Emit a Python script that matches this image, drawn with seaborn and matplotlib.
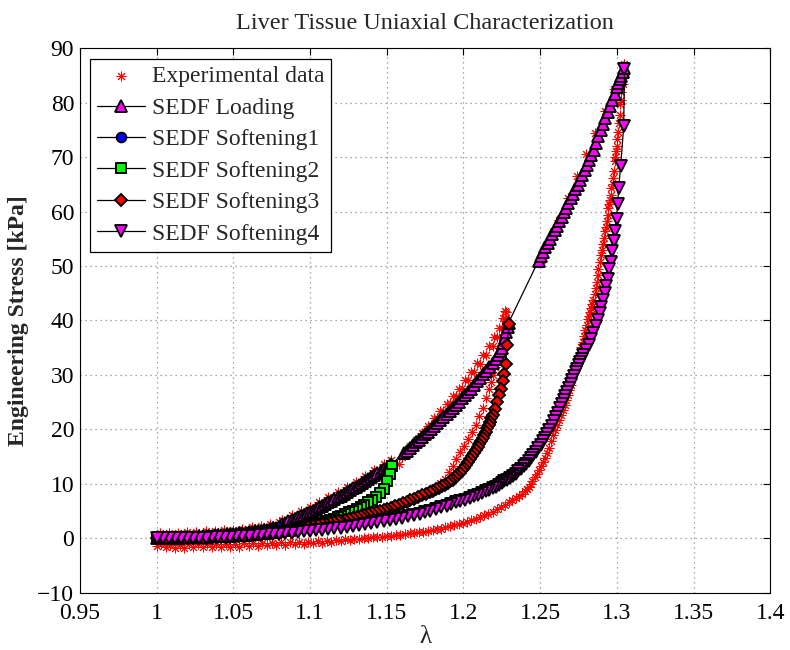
import numpy as np
import pandas as pd
import matplotlib
matplotlib.use("Agg")
import matplotlib.pyplot as plt
import seaborn as sns

# ---- values (stretch lambda, stress kPa) ----
# SEDF loading (primary path)
load_lam = [1.000, 1.002, 1.004, 1.006, 1.008, 1.010, 1.012, 1.014, 1.016, 1.018, 1.020,
            1.022, 1.024, 1.026, 1.028, 1.030, 1.032, 1.034, 1.036, 1.038, 1.040,
            1.042, 1.044, 1.046, 1.048, 1.050, 1.052, 1.054, 1.056, 1.058, 1.060,
            1.062, 1.064, 1.066, 1.068, 1.070, 1.072, 1.074, 1.076, 1.078, 1.080,
            1.082, 1.084, 1.086, 1.088, 1.090, 1.092, 1.094, 1.096, 1.098, 1.100,
            1.102, 1.104, 1.106, 1.108, 1.110, 1.112, 1.114, 1.116, 1.118, 1.120,
            1.122, 1.124, 1.126, 1.128, 1.130, 1.132, 1.134, 1.136, 1.138, 1.140,
            1.142, 1.144, 1.146, 1.148, 1.150, 1.1515, 1.153,
            1.161, 1.163, 1.165, 1.167, 1.169, 1.171, 1.173, 1.175, 1.177, 1.179,
            1.181, 1.183, 1.185, 1.187, 1.189, 1.191, 1.193, 1.195, 1.197, 1.199,
            1.201, 1.203, 1.205, 1.207, 1.209, 1.211, 1.213, 1.215, 1.217, 1.219,
            1.221, 1.2225, 1.224, 1.225, 1.226, 1.227, 1.228, 1.229, 1.2295,
            1.249, 1.2505, 1.252, 1.2535, 1.255, 1.2565, 1.258, 1.2595, 1.261, 1.2625,
            1.264, 1.2655, 1.267, 1.2685, 1.270, 1.2715, 1.273, 1.2745, 1.276, 1.2775,
            1.279, 1.2805, 1.282, 1.2835, 1.285, 1.2865, 1.288, 1.2895, 1.291, 1.2925,
            1.294, 1.2955, 1.297, 1.2985, 1.300, 1.301, 1.302, 1.303, 1.304, 1.305]
load_kpa = [0.00, 0.02, 0.04, 0.06, 0.08, 0.10, 0.12, 0.14, 0.17, 0.19, 0.22,
            0.25, 0.28, 0.31, 0.34, 0.38, 0.42, 0.46, 0.50, 0.54, 0.58,
            0.62, 0.67, 0.72, 0.77, 0.82, 0.88, 0.94, 1.00, 1.06, 1.13,
            1.20, 1.27, 1.35, 1.43, 1.52, 1.61, 1.71, 1.82, 1.95, 2.10,
            2.60, 2.85, 3.10, 3.35, 3.60, 3.85, 4.10, 4.35, 4.60, 4.85,
            5.10, 5.40, 5.70, 6.00, 6.30, 6.60, 6.90, 7.20, 7.50, 7.80,
            8.10, 8.45, 8.80, 9.15, 9.50, 9.85, 10.20, 10.55, 10.90, 11.25,
            11.60, 11.95, 12.30, 12.65, 13.00, 13.30, 13.60,
            15.6, 16.1, 16.6, 17.1, 17.6, 18.1, 18.6, 19.1, 19.6, 20.15,
            20.7, 21.25, 21.8, 22.35, 22.9, 23.45, 24.0, 24.55, 25.1, 25.7,
            26.3, 26.9, 27.5, 28.15, 28.8, 29.45, 30.1, 30.8, 31.5, 32.25,
            33.0, 33.65, 34.3, 35.0, 35.8, 36.8, 37.8, 38.8, 39.6,
            51.0, 51.8, 52.6, 53.4, 54.2, 55.0, 55.8, 56.6, 57.4, 58.2,
            59.0, 59.85, 60.7, 61.55, 62.4, 63.25, 64.1, 64.95, 65.8, 66.7,
            67.6, 68.5, 69.4, 70.3, 71.3, 72.5, 73.8, 74.9, 76.0, 77.15,
            78.3, 79.4, 80.5, 81.65, 82.8, 83.55, 84.3, 84.95, 85.6, 86.4]

# SEDF softening 1
soft1_lam = [1.080, 1.077, 1.074, 1.071, 1.068, 1.065, 1.062, 1.059, 1.056, 1.053,
             1.050, 1.047, 1.044, 1.041, 1.038, 1.035, 1.032, 1.029, 1.026, 1.023,
             1.020, 1.017, 1.014, 1.011, 1.008, 1.005, 1.002, 1.000]
soft1_kpa = [2.10, 1.70, 1.50, 1.33, 1.18, 1.05, 0.94, 0.84, 0.75, 0.67,
             0.60, 0.53, 0.47, 0.41, 0.36, 0.31, 0.27, 0.23, 0.19, 0.16,
             0.13, 0.10, 0.08, 0.06, 0.04, 0.02, 0.01, 0.00]

# SEDF softening 2
soft2_lam = [1.1535, 1.1525, 1.1505, 1.148, 1.1455, 1.143, 1.1405, 1.138, 1.1355, 1.133,
             1.1305, 1.128, 1.1255, 1.123, 1.1205, 1.118, 1.1155, 1.113, 1.1105, 1.108,
             1.1055, 1.103, 1.1005, 1.098, 1.0955, 1.093, 1.0905, 1.088, 1.0855, 1.083,
             1.0805, 1.078, 1.0755, 1.073, 1.0705, 1.068, 1.0655, 1.063, 1.0605, 1.058,
             1.0555, 1.053, 1.0505, 1.048, 1.0455, 1.043, 1.0405, 1.038, 1.0355, 1.033,
             1.0305, 1.028, 1.0255, 1.023, 1.0205, 1.018, 1.0155, 1.013, 1.0105, 1.008,
             1.0055, 1.003, 1.0005]
soft2_kpa = [13.3, 11.8, 10.5, 9.0, 8.3, 7.65, 7.1, 6.6, 6.15, 5.75,
             5.4, 5.05, 4.75, 4.45, 4.15, 3.85, 3.6, 3.35, 3.1, 2.9,
             2.7, 2.5, 2.3, 2.15, 2.0, 1.85, 1.7, 1.57, 1.45, 1.33,
             1.22, 1.12, 1.02, 0.93, 0.85, 0.77, 0.7, 0.63, 0.57, 0.51,
             0.46, 0.41, 0.36, 0.32, 0.28, 0.25, 0.22, 0.19, 0.16, 0.14,
             0.12, 0.1, 0.08, 0.06, 0.05, 0.04, 0.03, 0.02, 0.01, 0.01,
             0.0, 0.0, 0.0]

# SEDF softening 3
soft3_lam = [1.2295, 1.2285, 1.2275, 1.2265, 1.2255, 1.2243, 1.2232, 1.222, 1.2205, 1.219,
             1.2182, 1.2173, 1.2164, 1.2155, 1.2145, 1.2135, 1.2125, 1.2115, 1.2104, 1.2093,
             1.2082, 1.207, 1.2058, 1.2045, 1.2033, 1.202, 1.2005, 1.199, 1.1975, 1.196,
             1.1945, 1.193, 1.1915, 1.190, 1.188, 1.186, 1.184, 1.182, 1.180, 1.178,
             1.1755, 1.173, 1.1705, 1.168, 1.1655, 1.163, 1.1605, 1.158, 1.1555, 1.153,
             1.1505, 1.148, 1.1455, 1.143, 1.1405, 1.138, 1.1355, 1.133, 1.1305, 1.128,
             1.1255, 1.123, 1.1205, 1.118, 1.1155, 1.113, 1.1105, 1.108, 1.105, 1.102,
             1.099, 1.096, 1.093, 1.090, 1.087, 1.084, 1.081, 1.078, 1.075, 1.072,
             1.069, 1.066, 1.063, 1.060, 1.057, 1.054, 1.051, 1.048, 1.045, 1.042,
             1.039, 1.036, 1.033, 1.030, 1.027, 1.024, 1.021, 1.018, 1.015, 1.012,
             1.009, 1.006, 1.003, 1.000]
soft3_kpa = [39.4, 35.5, 32.0, 30.2, 28.9, 27.4, 26.3, 25.0, 23.8, 22.6,
             22.0, 21.4, 20.8, 20.2, 19.6, 19.0, 18.4, 17.8, 17.25, 16.7,
             16.15, 15.6, 15.05, 14.5, 14.0, 13.5, 13.0, 12.5, 12.05, 11.6,
             11.2, 10.8, 10.45, 10.1, 9.85, 9.6, 9.3, 9.0, 8.75, 8.5,
             8.2, 7.9, 7.6, 7.3, 7.0, 6.7, 6.42, 6.15, 5.9, 5.65,
             5.42, 5.2, 5.0, 4.8, 4.6, 4.4, 4.22, 4.05, 3.87, 3.7,
             3.55, 3.4, 3.27, 3.15, 3.0, 2.85, 2.7, 2.55, 2.38, 2.2,
             2.05, 1.9, 1.75, 1.6, 1.47, 1.35, 1.22, 1.1, 1.0, 0.9,
             0.81, 0.72, 0.64, 0.56, 0.49, 0.43, 0.37, 0.32, 0.27, 0.22,
             0.18, 0.15, 0.12, 0.1, 0.08, 0.06, 0.04, 0.03, 0.02, 0.01,
             0.0, 0.0, 0.0, 0.0]

# SEDF softening 4
soft4_lam = [1.3050, 1.3045, 1.3025, 1.3012, 1.3005, 1.2998, 1.2987, 1.2979, 1.2968, 1.2959,
             1.2948, 1.2940, 1.2931, 1.2921, 1.2911, 1.2900, 1.2888, 1.2876, 1.2862, 1.2848,
             1.2833, 1.2817, 1.2800, 1.2782, 1.2772, 1.2763, 1.2753, 1.2743, 1.2733, 1.2722,
             1.2711, 1.2700, 1.2689, 1.2677, 1.2665, 1.2653, 1.2641, 1.2628, 1.2615, 1.2602,
             1.2589, 1.2575, 1.2561, 1.2547, 1.2533, 1.2518, 1.2503, 1.2488, 1.2473, 1.2457,
             1.2441, 1.2425, 1.2409, 1.2392, 1.2375, 1.2358, 1.2341, 1.2323, 1.2305, 1.2287,
             1.2268, 1.2250, 1.2230, 1.2210, 1.2190, 1.2170, 1.2145, 1.2120, 1.2095, 1.2070,
             1.2040, 1.2010, 1.1980, 1.1950, 1.1920, 1.1890, 1.1855, 1.1820, 1.1785, 1.1750,
             1.1715, 1.1680, 1.1640, 1.1600, 1.1560, 1.1520, 1.1480, 1.1440, 1.1400, 1.1360,
             1.1320, 1.1280, 1.1240, 1.1200, 1.1160, 1.1120, 1.1080, 1.1040, 1.1000, 1.0960,
             1.0920, 1.0880, 1.0840, 1.0800, 1.0760, 1.0720, 1.0680, 1.0640, 1.0600, 1.0560,
             1.0520, 1.0480, 1.0440, 1.0400, 1.0360, 1.0320, 1.0280, 1.0240, 1.0200, 1.0160,
             1.0120, 1.0080, 1.0040, 1.0000]
soft4_kpa = [86.2, 75.7, 68.3, 64.3, 61.3, 58.7, 56.4, 54.5, 52.7, 50.8,
             49.4, 47.7, 46.4, 45.0, 43.7, 42.5, 41.3, 40.1, 38.9, 37.7,
             36.6, 35.5, 34.6, 33.7, 33.0, 32.4, 31.75, 31.1, 30.45, 29.8,
             29.1, 28.4, 27.65, 26.9, 26.15, 25.4, 24.65, 23.9, 23.1, 22.3,
             21.5, 20.7, 19.95, 19.2, 18.5, 17.8, 17.15, 16.5, 15.9, 15.3,
             14.75, 14.2, 13.7, 13.2, 12.75, 12.3, 11.9, 11.5, 11.15, 10.8,
             10.45, 10.1, 9.8, 9.5, 9.2, 8.9, 8.6, 8.3, 8.0, 7.7,
             7.4, 7.1, 6.85, 6.6, 6.35, 6.0, 5.7, 5.4, 5.1, 4.8,
             4.55, 4.3, 4.05, 3.8, 3.57, 3.35, 3.15, 2.95, 2.77, 2.6,
             2.43, 2.27, 2.12, 1.98, 1.85, 1.72, 1.6, 1.48, 1.37, 1.26,
             1.16, 1.06, 0.97, 0.88, 0.8, 0.72, 0.64, 0.57, 0.5, 0.44,
             0.38, 0.33, 0.28, 0.23, 0.19, 0.15, 0.12, 0.09, 0.07, 0.05,
             0.03, 0.02, 0.01, 0.0]

# experimental data (red asterisks), recorded branches
exp_unload4_lam = [1.3050, 1.3045, 1.3030, 1.3022, 1.3012, 1.3003, 1.2992, 1.2986, 1.2978, 1.2963,
                   1.2953, 1.2942, 1.2933, 1.2921, 1.2908, 1.2894, 1.2880, 1.2868, 1.2855, 1.2840,
                   1.2825, 1.2810, 1.2795, 1.2777, 1.2760, 1.2744, 1.2720, 1.2700, 1.2680, 1.2660,
                   1.2635, 1.2610, 1.2585, 1.2560, 1.2530, 1.2505, 1.2480, 1.2450, 1.2425, 1.2400,
                   1.2360, 1.2320, 1.2270, 1.2220, 1.2160, 1.2110, 1.2050, 1.2000, 1.1940, 1.1880,
                   1.1830, 1.1770, 1.1710, 1.1650, 1.1590, 1.1530, 1.1470, 1.1410, 1.1350, 1.1290,
                   1.1230, 1.1170, 1.1110, 1.1050, 1.0990, 1.0930, 1.0870, 1.0810, 1.0750, 1.0690,
                   1.0630, 1.0570, 1.0510, 1.0450, 1.0390, 1.0330, 1.0270, 1.0210, 1.0150, 1.0090,
                   1.0030]
exp_unload4_kpa = [87.0, 85.0, 82.0, 79.7, 76.2, 73.3, 71.1, 69.2, 66.1, 64.3,
                   62.2, 60.6, 58.2, 56.4, 54.0, 52.1, 49.5, 47.1, 44.8, 43.0,
                   41.6, 40.3, 38.2, 36.1, 34.2, 32.4, 30.3, 28.2, 26.3, 24.5,
                   22.6, 20.8, 19.0, 16.5, 14.8, 13.3, 11.8, 10.6, 9.5, 8.6,
                   7.8, 7.0, 6.2, 5.3, 4.5, 3.9, 3.3, 2.8, 2.4, 2.0,
                   1.7, 1.4, 1.1, 0.9, 0.7, 0.5, 0.3, 0.2, 0.0, -0.1,
                   -0.2, -0.3, -0.4, -0.5, -0.6, -0.6, -0.7, -0.7, -0.8, -0.8,
                   -0.9, -0.9, -1.0, -1.0, -1.0, -1.1, -1.1, -1.1, -1.2, -1.2,
                   -1.0]
exp_unload4b_lam = [1.3040, 1.3028, 1.3018, 1.3008, 1.2998, 1.2990, 1.2982, 1.2972, 1.2960, 1.2950,
                    1.2940, 1.2928, 1.2915, 1.2901, 1.2888, 1.2875, 1.2862, 1.2848, 1.2833, 1.2818,
                    1.2803, 1.2786, 1.2769, 1.2752, 1.2732, 1.2710, 1.2690, 1.2670, 1.2648, 1.2622,
                    1.2598, 1.2573, 1.2545, 1.2518, 1.2492, 1.2465, 1.2438, 1.2412, 1.2380, 1.2340,
                    1.2295, 1.2245, 1.2190, 1.2135, 1.2080, 1.2025, 1.1970, 1.1910, 1.1855, 1.1800,
                    1.1740, 1.1680, 1.1620, 1.1560, 1.1500, 1.1440, 1.1380, 1.1320, 1.1260, 1.1200,
                    1.1140, 1.1080, 1.1020, 1.0960, 1.0900, 1.0840, 1.0780, 1.0720, 1.0660, 1.0600,
                    1.0540, 1.0480, 1.0420, 1.0360, 1.0300, 1.0240, 1.0180, 1.0120, 1.0060, 1.0000]
exp_unload4b_kpa = [83.5, 80.5, 77.8, 74.6, 72.0, 70.0, 67.5, 65.0, 63.0, 61.3,
                    59.3, 57.2, 55.1, 53.0, 50.8, 48.3, 46.0, 43.8, 42.2, 40.9,
                    39.2, 37.1, 35.1, 33.3, 31.3, 29.2, 27.2, 25.4, 23.5, 21.7,
                    19.9, 17.8, 15.6, 14.0, 12.5, 11.2, 10.0, 9.0, 8.2, 7.4,
                    6.6, 5.7, 4.9, 4.2, 3.6, 3.0, 2.6, 2.2, 1.8, 1.5,
                    1.2, 1.0, 0.8, 0.6, 0.4, 0.2, 0.1, -0.1, -0.3, -0.5,
                    -0.6, -0.8, -0.9, -1.0, -1.1, -1.2, -1.2, -1.3, -1.4, -1.4,
                    -1.5, -1.5, -1.5, -1.6, -1.6, -1.6, -1.7, -1.7, -1.6, -1.4]
exp_load1_lam = [1.002, 1.008, 1.014, 1.020, 1.026, 1.032, 1.038, 1.044, 1.050, 1.056,
                 1.062, 1.068, 1.074, 1.080]
exp_load1_kpa = [0.9, 1.0, 1.0, 1.1, 1.2, 1.3, 1.4, 1.5, 1.6, 1.8,
                 2.0, 2.3, 2.6, 3.0]
exp_load2_lam = [1.082, 1.088, 1.094, 1.100, 1.106, 1.112, 1.118, 1.124, 1.130, 1.136,
                 1.142, 1.148, 1.153]
exp_load2_kpa = [3.4, 4.2, 5.0, 5.8, 6.7, 7.6, 8.5, 9.4, 10.4, 11.4,
                 12.5, 13.6, 14.4]
exp_load3_lam = [1.158, 1.163, 1.167, 1.171, 1.175, 1.179, 1.183, 1.187, 1.191, 1.195,
                 1.199, 1.203, 1.207, 1.211, 1.215, 1.219, 1.222, 1.225, 1.227, 1.228,
                 1.160, 1.165, 1.169, 1.173, 1.177, 1.181, 1.185, 1.189, 1.193, 1.197,
                 1.201, 1.205, 1.209, 1.213, 1.217, 1.220, 1.223, 1.2255, 1.227]
exp_load3_kpa = [13.6, 15.8, 17.0, 18.2, 19.5, 20.8, 22.1, 23.4, 24.8, 26.2,
                 27.6, 29.0, 30.5, 32.0, 33.6, 35.3, 36.9, 38.6, 40.2, 41.5,
                 15.0, 16.9, 18.1, 19.4, 20.7, 22.0, 23.3, 24.7, 26.1, 27.5,
                 29.0, 30.5, 32.1, 33.7, 35.4, 37.0, 38.7, 40.5, 41.8]
exp_unload3_lam = [1.227, 1.225, 1.222, 1.219, 1.217, 1.213, 1.208, 1.203, 1.198, 1.193,
                   1.188, 1.182, 1.175, 1.168,
                   1.2265, 1.2238, 1.2205, 1.2180, 1.2150, 1.2105, 1.2055, 1.2005, 1.1955, 1.1905,
                   1.1850, 1.1785, 1.1715]
exp_unload3_kpa = [40.5, 37.0, 33.0, 30.0, 27.4, 24.0, 20.8, 18.2, 15.8, 13.3,
                   10.9, 9.5, 8.3, 7.3,
                   38.5, 35.0, 31.5, 28.7, 25.7, 22.4, 19.5, 17.0, 14.5, 12.1,
                   10.2, 8.9, 7.8]
exp_load4_lam = [1.250, 1.256, 1.262, 1.268, 1.274, 1.280, 1.286, 1.292, 1.298]
exp_load4_kpa = [50.5, 54.5, 58.5, 62.5, 66.5, 70.5, 74.5, 78.5, 82.5]

series_names = ["Experimental data", "SEDF Loading", "SEDF Softening1",
                "SEDF Softening2", "SEDF Softening3", "SEDF Softening4"]

exp_df = pd.DataFrame({
    "lam": exp_unload4_lam + exp_unload4b_lam + exp_load1_lam + exp_load2_lam
           + exp_load3_lam + exp_unload3_lam + exp_load4_lam,
    "kpa": exp_unload4_kpa + exp_unload4b_kpa + exp_load1_kpa + exp_load2_kpa
           + exp_load3_kpa + exp_unload3_kpa + exp_load4_kpa,
})

sns.set_style("white")
plt.rcParams["font.family"] = ["Liberation Serif", "DejaVu Serif"]

fig = plt.figure(figsize=(7.9, 6.5), dpi=100)
ax = fig.add_axes([0.101, 0.088, 0.874, 0.838])

sns.scatterplot(data=exp_df, x="lam", y="kpa", marker=(8, 2, 0), color="red",
                s=42, linewidth=0.7, ax=ax, label=series_names[0], zorder=2)

styles = [
    (load_lam, load_kpa, "^", "magenta", 8.0),
    (soft1_lam, soft1_kpa, "o", "blue", 7.0),
    (soft2_lam, soft2_kpa, "s", "lime", 7.0),
    (soft3_lam, soft3_kpa, "D", "red", 6.5),
    (soft4_lam, soft4_kpa, "v", "magenta", 8.0),
]
for (lam, kpa, mk, fc, ms), name in zip(styles, series_names[1:]):
    sns.lineplot(x=lam, y=kpa, sort=False, estimator=None, color="black", linewidth=0.9,
                 marker=mk, markersize=ms, markerfacecolor=fc,
                 markeredgecolor="black", markeredgewidth=1.35, label=name, ax=ax, zorder=3)

ax.set_xlim(0.95, 1.4)
ax.set_ylim(-10, 90)
ax.set_xticks(np.arange(0.95, 1.401, 0.05))
ax.set_yticks(np.arange(-10, 91, 10))
ax.set_xticklabels(["0.95", "1", "1.05", "1.1", "1.15", "1.2", "1.25", "1.3", "1.35", "1.4"])
ax.set_yticklabels(["\u221210", "0", "10", "20", "30", "40", "50", "60", "70", "80", "90"])
ax.tick_params(direction="in", length=5, width=0.8, top=True, right=True, labelsize=17,
               colors="black")
ax.tick_params(axis="x", pad=7)
ax.tick_params(axis="y", pad=4)
ax.grid(True, color="#8c8c8c", linestyle=(0, (1, 3)), linewidth=0.9)
ax.set_axisbelow(True)
for sp in ax.spines.values():
    sp.set_color("black")
    sp.set_linewidth(0.8)

ax.set_title("Liver Tissue Uniaxial Characterization", fontsize=17.5, pad=14)
ax.set_xlabel("\u03bb", fontsize=18, labelpad=2)
ax.set_ylabel("Engineering Stress [kPa]", fontsize=17, fontweight="bold", labelpad=6)

leg = ax.legend(loc="upper left", fontsize=17, frameon=True, fancybox=False,
                edgecolor="black", framealpha=1, handlelength=2.0, handletextpad=0.3,
                labelspacing=0.42, borderpad=0.3, borderaxespad=0.45)
leg.get_frame().set_linewidth(0.9)

fig.savefig("out.png", dpi=100)
